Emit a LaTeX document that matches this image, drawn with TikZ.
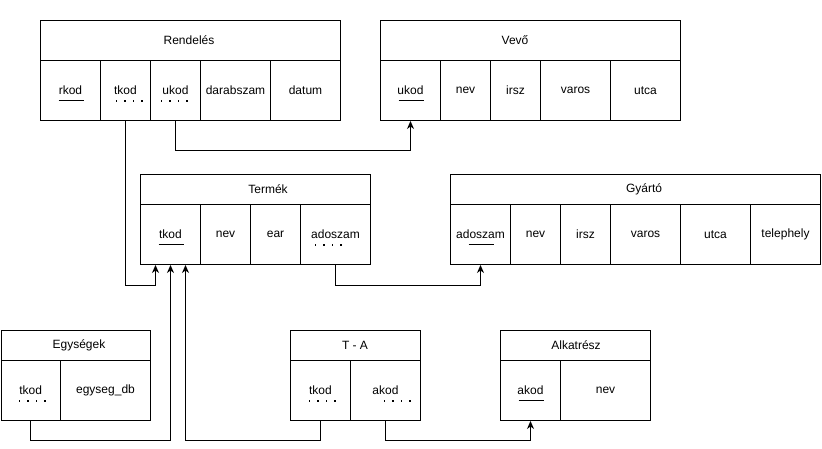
\documentclass[tikz,border=0pt]{standalone}
\usepackage{fontspec}
\setmainfont{Liberation Sans}
\usetikzlibrary{arrows.meta,calc}
\newcommand{\tcell}[6]{\node[cell,minimum width=#4 pt,minimum height=#5 pt] (#1) at (#2,#3) {#6};}
\newcommand{\pkmark}[1]{\draw[line width=1pt] ($(#1.center)+(-12,10)$) -- ++(25,0);}
\newcommand{\fkmark}[2]{\foreach \k in {0,1,2,3}{\fill ($(#1.center)+(#2+\k*8.5,9.5)$) rectangle ++(1.6,1.6);}}
\begin{document}
\begin{tikzpicture}[x=1pt,y=-1pt,
  cell/.style={draw,line width=1pt,inner sep=0pt,anchor=north west,font=\fontsize{12}{14}\selectfont},
  lbl/.style={inner sep=0pt,font=\fontsize{12}{14}\selectfont},
  conn/.style={line width=1pt,-{Stealth[length=8pt,width=7pt,inset=2.5pt]}}]
\useasboundingbox (0,0) rectangle (822,449);

% Rendeles
\tcell{rhead}{40}{20}{300}{40}{}
\node[lbl] (rtitle) at (189,40) {Rendelés};
\tcell{rrkod}{40}{60}{60}{60}{rkod}
\tcell{rtkod}{100}{60}{50}{60}{tkod}
\tcell{rukod}{150}{60}{50}{60}{ukod}
\tcell{rdarab}{200}{60}{70}{60}{darabszam}
\tcell{rdatum}{270}{60}{70}{60}{datum}
\pkmark{rrkod}
\fkmark{rtkod}{-10}
\fkmark{rukod}{-15}

% Vevo
\tcell{vhead}{380}{20}{300}{40}{}
\node[lbl] (vtitle) at (515,40) {Vevő};
\tcell{vukod}{380}{60}{60}{60}{ukod}
\tcell{vnev}{440}{60}{50}{60}{nev}
\tcell{virsz}{490}{60}{50}{60}{irsz}
\tcell{vvaros}{540}{60}{70}{60}{varos}
\tcell{vutca}{610}{60}{70}{60}{utca}
\pkmark{vukod}

% Termek
\tcell{thead}{140}{174}{230}{30}{}
\node[lbl] (ttitle) at (268,189) {Termék};
\tcell{ttkod}{140}{204}{60}{60}{tkod}
\tcell{tnev}{200}{204}{50}{60}{nev}
\tcell{tear}{250}{204}{50}{60}{ear}
\tcell{tados}{300}{204}{70}{60}{adoszam}
\pkmark{ttkod}
\fkmark{tados}{-21}

% Gyarto
\tcell{ghead}{450}{174}{370}{30}{}
\node[lbl] (gtitle) at (644,189) {Gyártó};
\tcell{gados}{450}{204}{60}{60}{adoszam}
\tcell{gnev}{510}{204}{50}{60}{nev}
\tcell{girsz}{560}{204}{50}{60}{irsz}
\tcell{gvaros}{610}{204}{70}{60}{varos}
\tcell{gutca}{680}{204}{70}{60}{utca}
\tcell{gtele}{750}{204}{70}{60}{telephely}
\pkmark{gados}

% Egysegek
\tcell{ehead}{0.5}{330}{149.5}{30}{}
\node[lbl] (etitle) at (79,345) {Egységek};
\tcell{etkod}{0.5}{360}{59.5}{60}{tkod}
\tcell{edb}{60}{360}{90}{60}{egyseg\_db}
\fkmark{etkod}{-12}

% T - A
\tcell{tahead}{290}{330}{130}{30}{}
\node[lbl] (tatitle) at (355,345) {T - A};
\tcell{tatkod}{290}{360}{60}{60}{tkod}
\tcell{taakod}{350}{360}{70}{60}{akod}
\fkmark{tatkod}{-12}
\fkmark{taakod}{-2}

% Alkatresz
\tcell{ahead}{500}{330}{150}{30}{}
\node[lbl] (atitle) at (576,345) {Alkatrész};
\tcell{aakod}{500}{360}{60}{60}{akod}
\tcell{anev}{560}{360}{90}{60}{nev}
\pkmark{aakod}

% connectors
\draw[conn] (rtkod.south) |- ($(ttkod.south)+(-15,20)$) -- ($(ttkod.south)+(-15,0)$);
\draw[conn] (rukod.south) -- ++(0,30) -| (vukod.south);
\draw[conn] (tados.south) -- ++(0,20) -| (gados.south);
\draw[conn] (etkod.south) -- ++(0,19) -| (ttkod.south);
\draw[conn] (tatkod.south) -- ++(0,19) -| ($(ttkod.south)+(15,0)$);
\draw[conn] (taakod.south) -- ++(0,19) -| (aakod.south);
\end{tikzpicture}
\end{document}
